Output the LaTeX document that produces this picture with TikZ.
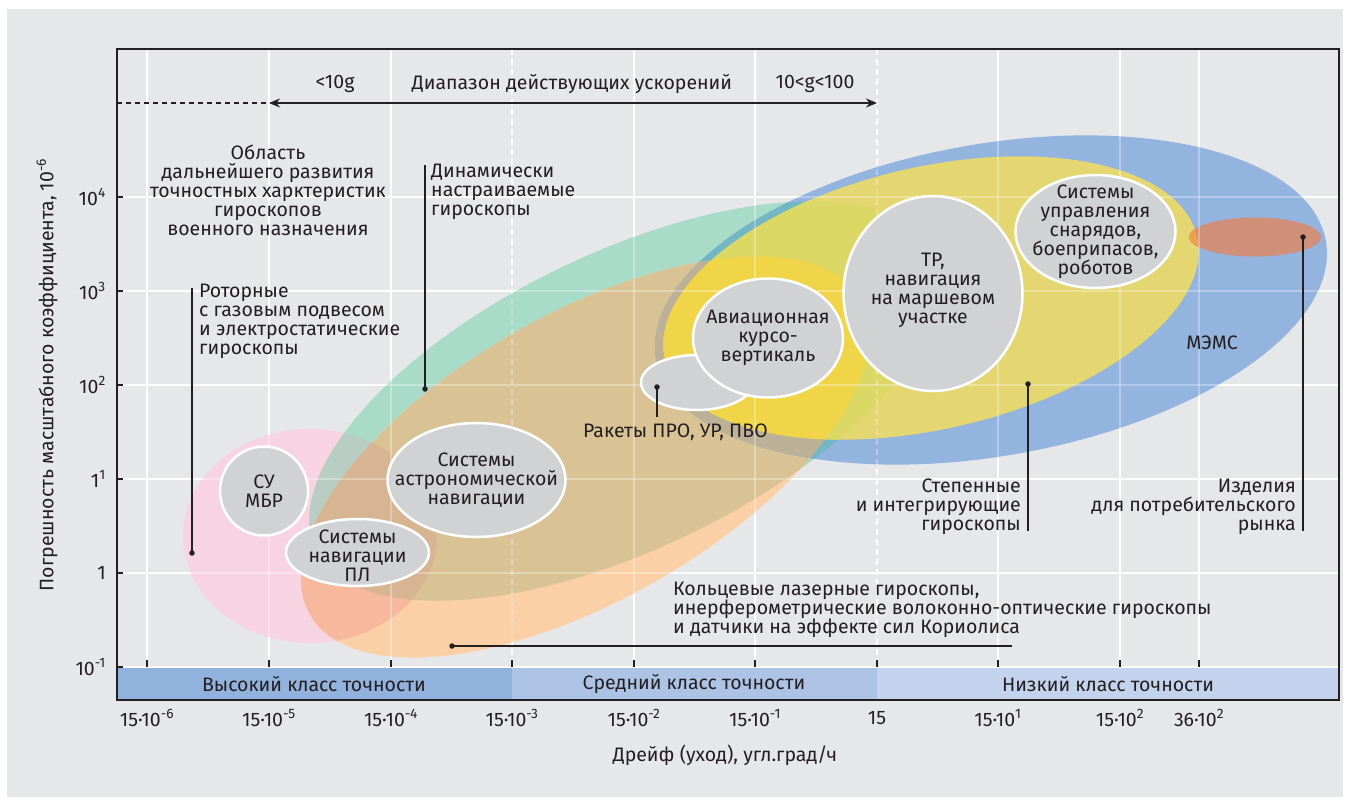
\documentclass[tikz,border=0pt]{standalone}
\usepackage{fontspec}
\setmainfont{Fira Sans}
\usetikzlibrary{shapes.geometric,arrows.meta}

\definecolor{panelgray}{HTML}{E6E7E9}
\definecolor{inkcol}{HTML}{231F20}
\definecolor{rotorpink}{HTML}{F8D4E2}
\definecolor{dnaggreen}{HTML}{A9DCC8}
\definecolor{rotordnag}{HTML}{B8CEC5}
\definecolor{laserpeach}{HTML}{FCD0A6}
\definecolor{laserdnag}{HTML}{D9C395}
\definecolor{laserrotor}{HTML}{F6B99E}
\definecolor{laserboth}{HTML}{D7B593}
\definecolor{memsblue}{HTML}{93B4DF}
\definecolor{memsdnag}{HTML}{72B7C3}
\definecolor{memslaser}{HTML}{BCB097}
\definecolor{stepenyellow}{HTML}{E4D670}
\definecolor{stependnag}{HTML}{DCD865}
\definecolor{stepenlaser}{HTML}{F0D548}
\definecolor{marketred}{HTML}{CF8F78}
\definecolor{marketstepen}{HTML}{EFA04C}
\definecolor{bubblegray}{HTML}{D1D2D4}
\definecolor{classhigh}{HTML}{92B2DE}
\definecolor{classmid}{HTML}{ADC3E6}
\definecolor{classlow}{HTML}{C4D3ED}

% outlines of the areas (units = pixels of the scan)
\def\rotorpath{(310,536) ellipse (127 and 107)}
\def\dnagpath{(625,401) ellipse (343 and 148)}
\def\laserpath{(585,457) ellipse (317 and 143)}
\def\memspath{(991,300) ellipse (340 and 156)}
\def\stepenpath{(931,298) ellipse (273 and 131)}
\def\marketpath{(1255,237) ellipse (66 and 19.5)}

\tikzset{
  dnagrot/.style={rotate around={25.7:(625,401)}},
  laserrot/.style={rotate around={29.8:(585,457)}},
  memsrot/.style={rotate around={10:(991,300)}},
  stepenrot/.style={rotate around={13:(931,298)}},
  txt/.style={font=\fontsize{19.5}{19}\selectfont, text=inkcol, inner sep=0pt},
  bubble/.style={ellipse, draw=white, line width=2.5pt, fill=bubblegray, inner sep=0pt},
  leader/.style={draw=inkcol, line width=1.7pt},
  pin/.style={circle, fill=inkcol, inner sep=0pt, minimum size=5.5pt},
  gridline/.style={draw=white, line width=1.8pt},
  tickmark/.style={draw=inkcol, line width=1.3pt},
}

\newcommand{\plotgrid}[1]{%
  \draw[gridline,#1] (117,197) -- (1339,197);
  \draw[gridline,#1] (117,291) -- (1339,291);
  \draw[gridline,#1] (117,385) -- (1339,385);
  \draw[gridline,#1] (117,479) -- (1339,479);
  \draw[gridline,#1] (117,573) -- (1339,573);
  \draw[gridline,#1] (147,49) -- (147,667);
  \draw[gridline,#1] (269,49) -- (269,667);
  \draw[gridline,#1] (391,49) -- (391,667);
  \draw[gridline,#1,dash pattern=on 6pt off 4pt] (512,49) -- (512,667);
  \draw[gridline,#1] (634,49) -- (634,667);
  \draw[gridline,#1] (755,49) -- (755,667);
  \draw[gridline,#1,dash pattern=on 6pt off 4pt] (877,49) -- (877,667);
  \draw[gridline,#1] (998,49) -- (998,667);
  \draw[gridline,#1] (1120,49) -- (1120,667);
  \draw[gridline,#1] (1199,49) -- (1199,667);
}

\begin{document}
\begin{tikzpicture}[x=1pt, y=-1pt]
	%%%%% START %%%%%
	\useasboundingbox (0,0) rectangle (1358,801);
	\fill[panelgray] (7,9) rectangle (1343,797);
	
	\plotgrid{}
	
	% areas of the gyro classes
	\fill[rotorpink] \rotorpath;
	\fill[dnaggreen, dnagrot] \dnagpath;
	\begin{scope}
		\clip \rotorpath;
		\fill[rotordnag, dnagrot] \dnagpath;
	\end{scope}
	
	\fill[laserpeach, laserrot] \laserpath;
	\begin{scope}
		\clip[dnagrot] \dnagpath;
		\fill[laserdnag, laserrot] \laserpath;
	\end{scope}
	\begin{scope}
		\clip \rotorpath;
		\fill[laserrotor, laserrot] \laserpath;
		\clip[dnagrot] \dnagpath;
		\fill[laserboth, laserrot] \laserpath;
	\end{scope}
	
	\fill[memsblue, memsrot] \memspath;
	\begin{scope}
		\clip[memsrot] \memspath;
		\fill[memsdnag, dnagrot] \dnagpath;
		\fill[memslaser, laserrot] \laserpath;
	\end{scope}
	
	\fill[stepenyellow, stepenrot] \stepenpath;
	\begin{scope}
		\clip[stepenrot] \stepenpath;
		\fill[stependnag, dnagrot] \dnagpath;
		\fill[stepenlaser, laserrot] \laserpath;
	\end{scope}
	
	\fill[marketred] \marketpath;
	\begin{scope}
		\clip[stepenrot] \stepenpath;
		\fill[marketstepen] \marketpath;
	\end{scope}
	
	\plotgrid{opacity=0.3}
	
	% accuracy classes and frame
	\fill[classhigh] (117,668) rectangle (512,700);
	\fill[classmid] (512,668) rectangle (877,700);
	\fill[classlow] (877,668) rectangle (1339,700);
	\draw[gridline] (117,667) -- (1339,667);
	\node[txt] (high) at (314,684) {Высокий класс точности};
	\node[txt] (mid) at (694,684) {Средний класс точности};
	\node[txt] (low) at (1108,684) {Низкий класс точности};
	
	\draw[tickmark] (117,197) -- (123,197);
	\draw[tickmark] (117,291) -- (123,291);
	\draw[tickmark] (117,385) -- (123,385);
	\draw[tickmark] (117,479) -- (123,479);
	\draw[tickmark] (117,573) -- (123,573);
	\draw[tickmark] (117,667) -- (123,667);
	\draw[tickmark] (147,660) -- (147,667);
	\draw[tickmark] (269,660) -- (269,667);
	\draw[tickmark] (391,660) -- (391,667);
	\draw[tickmark] (512,660) -- (512,667);
	\draw[tickmark] (634,660) -- (634,667);
	\draw[tickmark] (755,660) -- (755,667);
	\draw[tickmark] (877,660) -- (877,667);
	\draw[tickmark] (998,660) -- (998,667);
	\draw[tickmark] (1120,660) -- (1120,667);
	\draw[tickmark] (1199,660) -- (1199,667);
	\draw[inkcol, line width=1.5pt] (117,49) rectangle (1339,700);
	
	% axis labels
	\node[txt, anchor=east] (y4) at (106,197) {10\textsuperscript{4}};
	\node[txt, anchor=east] (y3) at (106,291) {10\textsuperscript{3}};
	\node[txt, anchor=east] (y2) at (106,385) {10\textsuperscript{2}};
	\node[txt, anchor=east] (y1) at (106,479) {1\textsuperscript{1}};
	\node[txt, anchor=east] (y0) at (106,573) {1};
	\node[txt, anchor=east] (ym1) at (106,667) {10\textsuperscript{-1}};
	\node[txt, rotate=90] (ytitle) at (47,375) {Погрешность масштабного коэффициента, 10\textsuperscript{-6}};
	
	\node[txt] (x1) at (147,718) {15·10\textsuperscript{-6}};
	\node[txt] (x2) at (269,718) {15·10\textsuperscript{-5}};
	\node[txt] (x3) at (391,718) {15·10\textsuperscript{-4}};
	\node[txt] (x4) at (512,718) {15·10\textsuperscript{-3}};
	\node[txt] (x5) at (634,718) {15·10\textsuperscript{-2}};
	\node[txt] (x6) at (755,718) {15·10\textsuperscript{-1}};
	\node[txt] (x7) at (877,718) {15};
	\node[txt] (x8) at (998,718) {15·10\textsuperscript{1}};
	\node[txt] (x9) at (1120,718) {15·10\textsuperscript{2}};
	\node[txt] (x10) at (1199,718) {36·10\textsuperscript{2}};
	\node[txt] (xtitle) at (725,755) {Дрейф (уход), угл.град/ч};
	
	% range of accelerations
	\node[txt] (lowg) at (335,84) {<10g};
	\node[txt] (range) at (572,84) {Диапазон действующих ускорений};
	\node[txt] (highg) at (815,84) {10<g<100};
	\coordinate (accstart) at (117,103);
	\coordinate (accleft) at (269,103);
	\coordinate (accright) at (877,103);
	\draw[inkcol, line width=1.2pt, dash pattern=on 5pt off 4pt] (accstart) -- (accleft);
	\draw[inkcol, line width=2.2pt, {Stealth[length=11pt,width=9pt]}-{Stealth[length=11pt,width=9pt]}] (accleft) -- (accright);
	
	% bubbles
	\node[bubble, minimum width=88pt, minimum height=89pt] (icbm) at (264,491) {};
	\node[bubble, minimum width=143pt, minimum height=67pt] (subnav) at (357.5,552.5) {};
	\node[bubble, minimum width=178pt, minimum height=114pt] (astro) at (476.5,480) {};
	\node[bubble, minimum width=112pt, minimum height=55pt] (rocket) at (697,382.5) {};
	\node[bubble, minimum width=150pt, minimum height=119pt] (avia) at (768,338) {};
	\node[bubble, minimum width=179pt, minimum height=195pt] (cruise) at (933,293.5) {};
	\node[bubble, minimum width=160pt, minimum height=113pt] (guided) at (1095.5,231.5) {};
	
	\node[txt, align=center] (icbmtxt) at (icbm) {СУ\\МБР};
	\node[txt, align=center] (subnavtxt) at (357.5,556) {Системы\\навигации\\ПЛ};
	\node[txt, align=center] (astrotxt) at (astro) {Системы\\астрономической\\навигации};
	\node[txt, align=center] (aviatxt) at (avia) {Авиационная\\курсо-\\вертикаль};
	\node[txt, align=center] (cruisetxt) at (933,290) {ТР,\\навигация\\на маршевом\\участке};
	\node[txt, align=center] (guidedtxt) at (guided) {Системы\\управления\\снарядов,\\боеприпасов,\\роботов};
	
	% labels with leaders
	\node[txt, align=center] (future) at (268,190) {Область\\дальнейшего развития\\точностных харктеристик\\гироскопов\\военного назначения};
	
	\node[txt, align=left, anchor=west] (dnaglbl) at (431,192) {Динамически\\настраиваемые\\гироскопы};
	\node[pin] (dnagpin) at (425,389) {};
	\coordinate (dnagend) at (425,165);
	\draw[leader] (dnagpin.center) -- (dnagend);
	
	\node[txt, align=left, anchor=west] (rotorlbl) at (199,321) {Роторные\\с газовым подвесом\\и электростатические\\гироскопы};
	\node[pin] (rotorpin) at (192,553) {};
	\coordinate (rotorend) at (192,288);
	\draw[leader] (rotorpin.center) -- (rotorend);
	
	\node[txt, anchor=west] (rocketlbl) at (583,432) {Ракеты ПРО, УР, ПВО};
	\node[pin] (rocketpin) at (657,387) {};
	\coordinate (rocketend) at (657,417);
	\draw[leader] (rocketpin.center) -- (rocketend);
	
	\node[txt] (memslbl) at (1212,343) {МЭМС};
	
	\node[txt, align=right, anchor=east] (stepenlbl) at (1021,507) {Степенные\\и интегрирующие\\гироскопы};
	\node[pin] (stepenpin) at (1028,384) {};
	\coordinate (stepenend) at (1028,531);
	\draw[leader] (stepenpin.center) -- (stepenend);
	
	\node[txt, align=right, anchor=east] (marketlbl) at (1296,507) {Изделия\\для потребительского\\рынка};
	\node[pin] (marketpin) at (1303,237) {};
	\coordinate (marketend) at (1303,531);
	\draw[leader] (marketpin.center) -- (marketend);
	
	\node[txt, align=left, anchor=west] (laserlbl) at (673,610) {Кольцевые лазерные гироскопы,\\инерферометрические волоконно-оптические гироскопы\\и датчики на эффекте сил Кориолиса};
	\node[pin] (laserpin) at (452,646) {};
	\coordinate (laserend) at (1012,646);
	\draw[leader] (laserpin.center) -- (laserend);
	
	%%%%% END %%%%%
\end{tikzpicture}
\end{document}
